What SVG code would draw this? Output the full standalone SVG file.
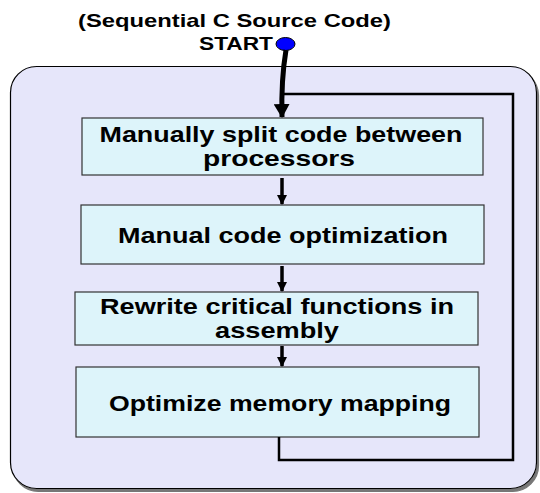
<svg xmlns="http://www.w3.org/2000/svg" width="540" height="493" viewBox="0 0 540 493">
<defs>
<marker id="ah" markerUnits="userSpaceOnUse" markerWidth="12" markerHeight="10" refX="9" refY="5" orient="auto">
<path d="M0,0 L10,5 L0,10 Z" fill="#000"/>
</marker>
<marker id="ahBig" markerUnits="userSpaceOnUse" markerWidth="16" markerHeight="16" refX="13" refY="8" orient="auto">
<path d="M0,0 L14,8 L0,16 Z" fill="#000"/>
</marker>
<filter id="sh" x="-5%" y="-5%" width="110%" height="110%">
<feOffset dx="2" dy="3" in="SourceAlpha" result="o"/>
<feFlood flood-color="#777"/>
<feComposite operator="in" in2="o"/>
<feMerge><feMergeNode/><feMergeNode in="SourceGraphic"/></feMerge>
</filter>
</defs>
<style>
.t{font-family:"Liberation Sans",Arial,sans-serif;font-weight:bold;fill:#000;text-anchor:middle}
.bt{font-size:21.5px}
.box{fill:#DDF4FA;stroke:#333;stroke-width:1.2}
.conn{fill:none;stroke:#000}
</style>
<rect id="container" x="10.5" y="66.5" width="526" height="422" rx="26" ry="26" fill="#E6E6FA" stroke="#000" stroke-width="1.2" filter="url(#sh)"/>
<g id="start">
<text class="t" x="234.5" y="27" font-size="19" textLength="313" lengthAdjust="spacingAndGlyphs">(Sequential C Source Code)</text>
<text class="t" x="236" y="50" font-size="19" textLength="74" lengthAdjust="spacingAndGlyphs">START</text>
<ellipse cx="285.5" cy="44" rx="9.5" ry="6.5" fill="#0000FF" stroke="#000" stroke-width="1"/>
</g>
<g id="n1">
<rect class="box" x="82" y="118" width="401" height="57"/>
<text class="t bt" x="281" y="142" textLength="363" lengthAdjust="spacingAndGlyphs">Manually split code between</text>
<text class="t bt" x="279" y="166" textLength="152" lengthAdjust="spacingAndGlyphs">processors</text>
</g>
<g id="n2">
<rect class="box" x="81" y="205" width="403" height="59"/>
<text class="t bt" x="283" y="243" textLength="330" lengthAdjust="spacingAndGlyphs">Manual code optimization</text>
</g>
<g id="n3">
<rect class="box" x="75" y="292" width="403" height="53"/>
<text class="t bt" x="277" y="314" textLength="354" lengthAdjust="spacingAndGlyphs">Rewrite critical functions in</text>
<text class="t bt" x="277" y="338" textLength="124" lengthAdjust="spacingAndGlyphs">assembly</text>
</g>
<g id="n4">
<rect class="box" x="76" y="367" width="403" height="70"/>
<text class="t bt" x="280" y="411" textLength="342" lengthAdjust="spacingAndGlyphs">Optimize memory mapping</text>
</g>
<g id="connectors">
<path class="conn" d="M286,50 Q281,80 282,117" stroke-width="5" marker-end="url(#ahBig)"/>
<path class="conn" d="M279,437 V460 H513 V94 H284" stroke-width="2.5"/>
<line class="conn" x1="282" y1="178" x2="282" y2="204" stroke-width="3.5" marker-end="url(#ah)"/>
<line class="conn" x1="282" y1="266" x2="282" y2="291" stroke-width="3.5" marker-end="url(#ah)"/>
<line class="conn" x1="282" y1="346" x2="282" y2="366" stroke-width="3.5" marker-end="url(#ah)"/>
</g>
</svg>
